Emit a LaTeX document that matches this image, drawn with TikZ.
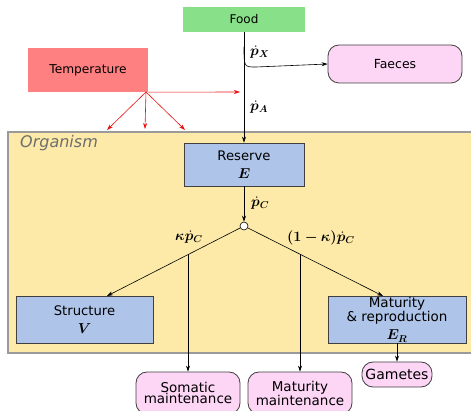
\documentclass[tikz,border=0pt]{standalone}
\usepackage{amsmath,bm}
\usepackage{fontspec}
\setmainfont{DejaVu Sans}
\usetikzlibrary{arrows.meta}
\definecolor{foodgreen}{HTML}{88E088}
\definecolor{tempred}{HTML}{FF8080}
\definecolor{sinkpink}{HTML}{FDD5F5}
\definecolor{poolblue}{HTML}{AEC4E8}
\definecolor{orgyellow}{HTML}{FDEAA8}
\definecolor{orggray}{HTML}{9A9A9A}
\definecolor{labelgray}{HTML}{6E6E6E}
\definecolor{edgegray}{HTML}{404040}
\definecolor{fluxred}{HTML}{E81010}
\newcommand{\mathbig}{\fontsize{14.4}{14.4}\selectfont}
\tikzset{
  pool/.style={draw=edgegray, fill=poolblue, line width=0.8pt, inner sep=0pt, align=center, font=\fontsize{13.2}{12.5}\selectfont},
  sink/.style={draw=edgegray, fill=sinkpink, line width=0.8pt, rounded corners=11pt, inner sep=0pt, align=center, font=\fontsize{13.5}{11.5}\selectfont},
  flux/.style={-{Stealth[length=6pt,width=4pt]}, line width=0.6pt},
  tflux/.style={-{Stealth[length=6pt,width=4pt]}, line width=0.6pt, draw=fluxred},
  rate/.style={font=\mathbig, inner sep=0pt},
}
\begin{document}
\begin{tikzpicture}[x=1pt,y=-1pt]
\useasboundingbox (0,0) rectangle (471,411);

% organism compartment
\path[fill=orgyellow, draw=orggray, line width=1.2pt] (8,132) rectangle (480,353);
\node[anchor=north west, text=labelgray, font=\fontsize{16}{16}\selectfont\itshape, inner sep=0pt] (org) at (20,135) {Organism};

% environment
\node[fill=foodgreen, minimum width=122pt, minimum height=25pt, inner sep=0pt, font=\fontsize{12}{12}\selectfont] (food) at (244,19.5) {Food};
\node[fill=tempred, minimum width=120pt, minimum height=44pt, inner sep=0pt, font=\fontsize{12.2}{12}\selectfont] (temp) at (88,70) {Temperature};
\node[sink, minimum width=134pt, minimum height=38pt, font=\fontsize{12.5}{12}\selectfont] (faeces) at (395,64) {Faeces};

% pools
\node[pool, minimum width=120pt, minimum height=43pt] (reserve) at (244,164.5) {Reserve\\[5pt]{\mathbig$\bm{E}$}};
\node[pool, minimum width=137pt, minimum height=47pt] (structure) at (84.5,319.5) {Structure\\[5pt]{\mathbig$\bm{V}$}};
\node[pool, minimum width=138pt, minimum height=47pt, font=\fontsize{13.5}{12}\selectfont] (maturity) at (397,319.5) {Maturity\\\& reproduction\\[5pt]{\mathbig$\bm{E_R}$}};

% sinks
\node[sink, minimum width=70pt, minimum height=25pt, font=\fontsize{14}{14}\selectfont] (gametes) at (397,374.5) {Gametes};
\node[sink, minimum width=104pt, minimum height=42pt] (somatic) at (188,393) {Somatic\\maintenance};
\node[sink, minimum width=104pt, minimum height=42pt] (matmaint) at (300,393) {Maturity\\maintenance};

% split point of the mobilisation flux
\node[circle, draw=black, fill=white, line width=0.6pt, minimum size=8pt, inner sep=0pt] (split) at (244,226) {};

% coordinates on the branches
\coordinate (fx) at (244,47);
\coordinate (lb) at (188,254);
\coordinate (rb) at (300,254);
\coordinate (tsrc) at (146,92);
\coordinate (ta) at (240,92);
\coordinate (t1) at (107,130);
\coordinate (t2) at (145,129);
\coordinate (t3) at (185,130);

% feeding and assimilation
\draw[flux] (food.south) -- (reserve.north);
\draw[flux] (fx) .. controls (244,67) and (244,67) .. (256,67) -- (faeces.west);
\node[rate, anchor=west] (px) at (250,52) {$\boldsymbol{\dot p_X}$};
\node[rate, anchor=west] (pa) at (250,107) {$\boldsymbol{\dot p_A}$};

% temperature effects
\draw[tflux] (temp.south east) -- (ta);
\draw[tflux] (tsrc) -- (t1);
\draw[tflux] (tsrc) -- (t2);
\draw[tflux] (tsrc) -- (t3);

% mobilisation and kappa rule
\draw[flux] (reserve.south) -- (split.north);
\node[rate, anchor=west] (pc) at (251,203) {$\boldsymbol{\dot p_C}$};
\draw[flux] (split) -- (107,296) coordinate (sl);
\draw[flux] (split) -- (383,296) coordinate (sr);
\node[rate] (kap) at (189,237) {$\boldsymbol{\kappa\dot p_C}$};
\node[rate] (omk) at (321,238) {$\boldsymbol{(1-\kappa)\dot p_C}$};
\draw[flux] (lb) -- (somatic.north);
\draw[flux] (rb) -- (matmaint.north);
\draw[flux] (maturity.south -| gametes.north) -- (gametes.north);
\end{tikzpicture}
\end{document}
